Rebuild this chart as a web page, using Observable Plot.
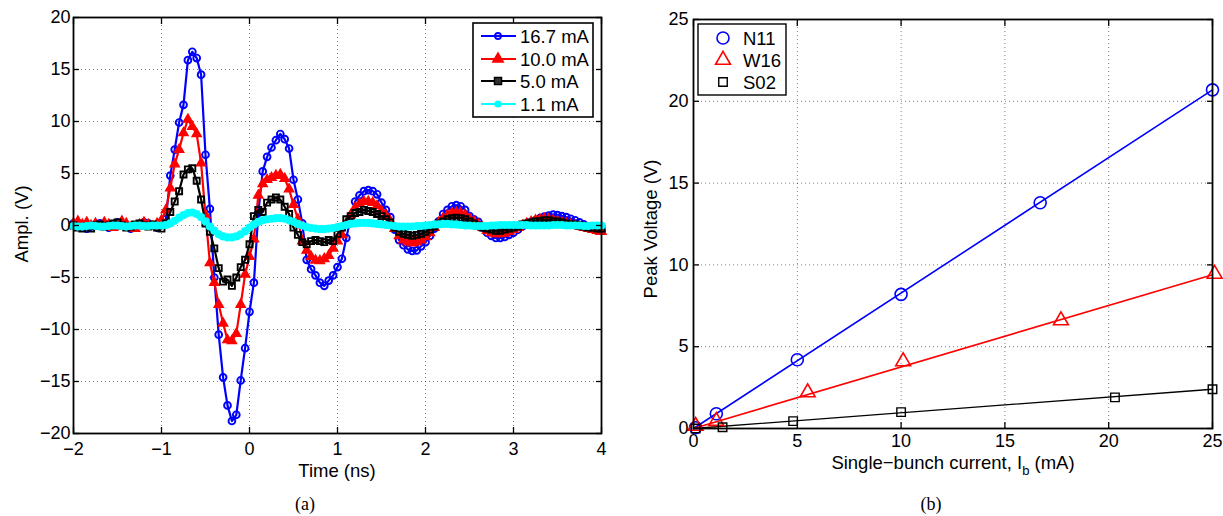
<!DOCTYPE html>
<html><head><meta charset="utf-8">
<script src="https://cdn.jsdelivr.net/npm/d3@7"></script>
<script src="https://cdn.jsdelivr.net/npm/@observablehq/plot@0.6"></script>
<style>
body{margin:0;background:#fff;}
#wrap{position:relative;width:1223px;height:516px;font-family:"Liberation Sans",Arial,sans-serif;background:#fff;}
.panel{position:absolute;top:0;}
.cap{position:absolute;top:494px;font-family:"Liberation Serif","DejaVu Serif",serif;font-size:18px;transform:translateX(-50%);line-height:20px;}
</style></head><body><div id="wrap"></div>
<script>
// ---------- Panel (a): waveforms ----------
const timeStart = -2, timeStep = 0.05; // sampling grid (ns)
const seriesNames = ["16.7 mA", "10.0 mA", "5.0 mA", "1.1 mA"];
const wave167 = [0.2,0.0,-0.2,-0.3,-0.1,0.1,0.2,0.0,-0.2,0.1,0.3,0.1,-0.1,-0.3,-0.2,0.1,0.3,0.2,0.0,-0.2,0.1,
  0.6,4.8,7.3,9.9,11.6,15.9,16.7,16.1,14.5,6.8,1.6,-5.0,-10.5,-14.6,-17.3,-18.8,-18.2,-14.9,-11.8,-8.3,
  -5.5,1.2,5.2,6.6,7.5,8.2,8.8,8.3,7.4,4.4,2.5,0.2,-3.3,-4.2,-4.8,-5.5,-5.8,-5.3,-4.8,-4.0,
  -3.2,-1.2,0.8,2.3,2.9,3.3,3.4,3.3,3.0,2.2,1.5,0.8,-0.4,-1.4,-1.9,-2.3,-2.45,-2.4,-2.0,-1.6,
  -1.0,-0.3,0.4,1.1,1.5,1.85,1.95,1.85,1.5,0.9,0.6,0.35,-0.2,-0.7,-1.0,-1.2,-1.2,-1.1,-0.9,-0.7,
  -0.4,-0.1,0.1,0.3,0.5,0.7,0.85,0.95,1.05,1.0,0.9,0.8,0.65,0.5,0.3,0.1,-0.1,-0.3,-0.5,-0.5];
const wave100 = [0.2,0.4,0.1,0.3,0.0,0.2,-0.1,0.3,0.1,-0.2,0.1,0.4,0.2,-0.2,-0.3,0.1,0.3,0.1,-0.1,0.2,0.5,
  1.5,3.6,5.9,7.3,8.9,10.2,9.5,8.8,6.0,1.0,-3.6,-5.5,-7.6,-9.4,-11.0,-11.1,-10.4,-7.6,-4.7,-3.0,
  -1.3,2.9,4.0,4.4,4.6,4.8,4.9,4.5,3.5,2.0,0.6,-1.5,-2.4,-3.0,-3.35,-3.4,-3.2,-2.9,-2.2,-1.5,
  -0.9,0.2,1.0,1.7,2.1,2.3,2.3,2.2,1.9,1.4,1.0,0.4,-0.3,-1.0,-1.4,-1.6,-1.7,-1.6,-1.4,-1.1,
  -0.7,-0.2,0.3,0.7,1.0,1.2,1.25,1.2,1.0,0.7,0.4,0.1,-0.2,-0.5,-0.7,-0.8,-0.8,-0.75,-0.6,-0.4,
  -0.2,0.0,0.2,0.35,0.5,0.6,0.65,0.6,0.5,0.4,0.3,0.2,0.1,0.0,-0.1,-0.2,-0.3,-0.4,-0.5,-0.6];
const wave50 = [0.0,-0.2,-0.3,-0.1,-0.3,0.0,0.1,-0.1,0.0,0.2,0.3,0.0,-0.2,-0.1,0.1,0.2,0.0,-0.1,0.1,-0.2,-0.3,
  0.2,1.3,2.3,3.3,4.9,5.4,5.5,4.3,2.5,0.2,-0.6,-2.2,-4.1,-5.4,-5.2,-5.8,-5.0,-4.0,-3.3,-1.8,
  0.9,1.5,1.3,2.2,2.5,2.7,2.5,1.8,1.1,-0.2,-0.9,-1.6,-1.8,-1.5,-1.4,-1.5,-1.6,-1.4,-1.5,-0.8,
  -0.2,0.6,0.9,1.2,1.3,1.5,1.4,1.3,1.1,0.9,0.6,0.3,-0.2,-0.6,-0.8,-0.9,-1.0,-0.9,-0.8,-0.6,
  -0.4,-0.1,0.2,0.4,0.6,0.7,0.75,0.7,0.6,0.4,0.2,0.0,-0.2,-0.3,-0.4,-0.5,-0.5,-0.4,-0.3,-0.2,
  -0.1,0.1,0.2,0.3,0.4,0.4,0.5,0.5,0.4,0.4,0.3,0.2,0.1,0.1,0.0,-0.1,-0.2,-0.2,-0.3,-0.3];
const wave11 = [-0.05,-0.1,-0.1,-0.05,0.0,-0.05,-0.1,-0.1,-0.05,0.0,0.0,-0.05,-0.1,-0.05,0.0,0.0,-0.05,-0.05,0.0,0.0,0.0,
  0.05,0.2,0.45,0.75,1.0,1.2,1.25,1.1,0.8,0.4,-0.1,-0.5,-0.85,-1.05,-1.15,-1.15,-1.05,-0.85,-0.55,-0.2,
  0.1,0.35,0.5,0.6,0.65,0.7,0.7,0.65,0.5,0.35,0.15,0.0,-0.15,-0.25,-0.3,-0.35,-0.35,-0.3,-0.25,-0.15,
  -0.05,0.05,0.15,0.2,0.25,0.25,0.25,0.2,0.15,0.1,0.05,0.0,-0.05,-0.1,-0.1,-0.1,-0.1,-0.05,-0.05,0.0,
  0.05,0.1,0.1,0.15,0.15,0.1,0.1,0.05,0.0,0.0,-0.05,-0.05,-0.05,-0.05,0.0,0.0,0.05,0.05,0.05,0.05,
  0.05,0.05,0.05,0.0,0.0,0.0,0.0,0.0,0.05,0.05,0.05,0.0,0.0,0.0,0.0,-0.05,-0.05,0.0,0.0,0.0];
const ticksTimeX = [-2,-1,0,1,2,3,4];
const ticksAmplY = [-20,-15,-10,-5,0,5,10,15,20];

// ---------- Panel (b): peak voltage vs current ----------
const legendB = ["N11", "W16", "S02"];
const currentN11 = [0.1, 1.1, 5.0, 10.0, 16.7, 25.0];
const voltN11    = [0.05, 0.9, 4.2, 8.2, 13.8, 20.7];
const currentW16 = [0.1, 1.1, 5.5, 10.1, 17.7, 25.1];
const voltW16    = [0.15, 0.45, 2.2, 4.1, 6.6, 9.45];
const currentS02 = [0.1, 1.4, 4.8, 10.0, 20.3, 25.0];
const voltS02    = [0.0, 0.08, 0.45, 1.0, 1.9, 2.4];
const fitCurrent = [0, 25];
const fitN11 = [0, 20.7];
const fitW16 = [0, 9.4];
const fitS02 = [0, 2.4];
const ticksCurrentX = [0,5,10,15,20,25];
const ticksVoltY = [0,5,10,15,20,25];

// ---------- helpers ----------
const BLUE = "#0000ff", RED = "#ff0000", BLACK = "#000000", CYAN = "#00ffff";
const FONT = "Liberation Sans, Arial, sans-serif";
const TICKFS = 18, LABFS = 18.5;
const fmt = d => d < 0 ? "\u2212" + Math.abs(d) : String(d);
const toWave = vals => vals.map((v, i) => ({t: +(timeStart + i * timeStep).toFixed(3), v}));
const toXY = (xs, ys) => xs.map((x, i) => ({x, y: ys[i]}));
const grid = (xt, yt) => [
  Plot.ruleX(xt, {stroke: "#000", strokeOpacity: 0.5, strokeWidth: 1, strokeDasharray: "1,3"}),
  Plot.ruleY(yt, {stroke: "#000", strokeOpacity: 0.5, strokeWidth: 1, strokeDasharray: "1,3"})
];
const boxAxes = (xt, yt, padY, padX) => [
  Plot.axisX(xt, {anchor: "bottom", tickSize: 0, tickPadding: padX, tickFormat: fmt, label: null, fontSize: TICKFS}),
  Plot.axisY(yt, {anchor: "left", tickSize: 0, tickPadding: padY, tickFormat: fmt, label: null, fontSize: TICKFS}),
  Plot.axisX(xt, {anchor: "bottom", tickSize: 6, dy: -6, tickFormat: () => "", label: null, strokeWidth: 1.3}),
  Plot.axisX(xt, {anchor: "top", tickSize: 6, dy: 6, tickFormat: () => "", label: null, strokeWidth: 1.3}),
  Plot.axisY(yt, {anchor: "left", tickSize: 6, dx: 6, tickFormat: () => "", label: null, strokeWidth: 1.3}),
  Plot.axisY(yt, {anchor: "right", tickSize: 6, dx: -6, tickFormat: () => "", label: null, strokeWidth: 1.3}),
  Plot.frame({stroke: "#000", strokeWidth: 1.8})
];
const addText = (sel, attrs, txt) => {
  const t = sel.append("text").attr("font-family", FONT).attr("fill", "black");
  Object.entries(attrs).forEach(([k, v]) => t.attr(k, v));
  if (txt != null) t.text(txt);
  return t;
};

const wrap = document.getElementById("wrap");

// ---------- build panel (a) ----------
const d167 = toWave(wave167), d100 = toWave(wave100), d50 = toWave(wave50), d11 = toWave(wave11);
const plotA = Plot.plot({
  width: 612, height: 480, marginLeft: 73, marginRight: 11, marginTop: 17, marginBottom: 47,
  x: {domain: [-2, 4]}, y: {domain: [-20, 20]},
  style: {fontFamily: FONT, fontSize: "18px", color: "black", background: "white", overflow: "visible"},
  marks: [
    ...grid(ticksTimeX, ticksAmplY),
    Plot.line(d167, {x: "t", y: "v", stroke: BLUE, strokeWidth: 2.2}),
    Plot.dot(d167, {x: "t", y: "v", r: 3.4, stroke: BLUE, strokeWidth: 1.9, fill: "none"}),
    Plot.line(d100, {x: "t", y: "v", stroke: RED, strokeWidth: 2.2}),
    Plot.dot(d100, {x: "t", y: "v", symbol: "triangle", r: 3.5, stroke: RED, strokeWidth: 1.3, fill: RED}),
    Plot.line(d50, {x: "t", y: "v", stroke: BLACK, strokeWidth: 2.2}),
    Plot.dot(d50, {x: "t", y: "v", symbol: "square", r: 3.4, stroke: BLACK, strokeWidth: 1.9, fill: "none"}),
    Plot.line(d11, {x: "t", y: "v", stroke: CYAN, strokeWidth: 3}),
    Plot.dot(d11, {x: "t", y: "v", r: 4.1, fill: CYAN, stroke: "none"}),
    ...boxAxes(ticksTimeX, ticksAmplY, 3, 9)
  ]
});
plotA.classList.add("panel");
plotA.style.left = "0px";
wrap.appendChild(plotA);

{
  const svg = d3.select(plotA);
  addText(svg, {transform: "translate(21,224) rotate(-90)", "text-anchor": "middle", "dominant-baseline": "central", "font-size": LABFS}, "Ampl. (V)");
  addText(svg, {x: 337, y: 477, "text-anchor": "middle", "font-size": LABFS}, "Time (ns)");
  const g = svg.append("g");
  g.append("rect").attr("x", 473).attr("y", 23).attr("width", 120).attr("height", 94)
    .attr("fill", "white").attr("stroke", "black").attr("stroke-width", 1.6);
  const cols = [BLUE, RED, BLACK, CYAN];
  const ys = [36, 59, 81, 104];
  seriesNames.forEach((name, i) => {
    const y = ys[i];
    g.append("line").attr("x1", 481).attr("x2", 516).attr("y1", y).attr("y2", y).attr("stroke", cols[i]).attr("stroke-width", 2.2);
    if (i === 0) g.append("circle").attr("cx", 498).attr("cy", y).attr("r", 3).attr("fill", "none").attr("stroke", BLUE).attr("stroke-width", 1.8);
    if (i === 1) g.append("path").attr("d", d3.symbol(d3.symbolTriangle, 75)()).attr("transform", `translate(498,${y})`).attr("fill", RED);
    if (i === 2) g.append("rect").attr("x", 494.5).attr("y", y - 3.5).attr("width", 7).attr("height", 7).attr("fill", "#333").attr("stroke", BLACK).attr("stroke-width", 1.5);
    if (i === 3) g.append("circle").attr("cx", 498).attr("cy", y).attr("r", 3.6).attr("fill", CYAN);
    addText(g, {x: 520, y: y, "text-anchor": "start", "dominant-baseline": "central", "font-size": LABFS}, name);
  });
}

// ---------- build panel (b) ----------
const pN11 = toXY(currentN11, voltN11), pW16 = toXY(currentW16, voltW16), pS02 = toXY(currentS02, voltS02);
const plotB = Plot.plot({
  width: 583, height: 480, marginLeft: 53, marginRight: 11, marginTop: 19, marginBottom: 52,
  x: {domain: [0, 25]}, y: {domain: [0, 25]},
  style: {fontFamily: FONT, fontSize: "18px", color: "black", background: "white", overflow: "visible"},
  marks: [
    ...grid(ticksCurrentX, ticksVoltY),
    Plot.line(toXY(fitCurrent, fitN11), {x: "x", y: "y", stroke: BLUE, strokeWidth: 1.6}),
    Plot.line(toXY(fitCurrent, fitW16), {x: "x", y: "y", stroke: RED, strokeWidth: 1.6}),
    Plot.line(toXY(fitCurrent, fitS02), {x: "x", y: "y", stroke: BLACK, strokeWidth: 1.3}),
    Plot.dot(pN11, {x: "x", y: "y", r: 6, stroke: BLUE, strokeWidth: 1.6, fill: "none"}),
    Plot.dot(pW16, {x: "x", y: "y", symbol: "triangle", r: 5.5, stroke: RED, strokeWidth: 1.6, fill: "none"}),
    Plot.dot(pS02, {x: "x", y: "y", symbol: "square", r: 4.8, stroke: BLACK, strokeWidth: 1.4, fill: "none"}),
    ...boxAxes(ticksCurrentX, ticksVoltY, 5, 6)
  ]
});
plotB.classList.add("panel");
plotB.style.left = "640px";
wrap.appendChild(plotB);

{
  const svg = d3.select(plotB);
  addText(svg, {transform: "translate(10,229) rotate(-90)", "text-anchor": "middle", "dominant-baseline": "central", "font-size": LABFS}, "Peak Voltage (V)");
  const xl = addText(svg, {x: 313, y: 469, "text-anchor": "middle", "font-size": LABFS});
  xl.append("tspan").text("Single\u2212bunch current, I");
  xl.append("tspan").attr("font-size", 13).attr("dy", 6).text("b");
  xl.append("tspan").attr("dy", -6).text(" (mA)");
  const g = svg.append("g");
  g.append("rect").attr("x", 58).attr("y", 24).attr("width", 88).attr("height", 71)
    .attr("fill", "white").attr("stroke", "black").attr("stroke-width", 1.4);
  const ys = [38, 60, 82];
  g.append("circle").attr("cx", 83).attr("cy", ys[0]).attr("r", 6).attr("fill", "none").attr("stroke", BLUE).attr("stroke-width", 1.6);
  g.append("path").attr("d", d3.symbol(d3.symbolTriangle, Math.PI * 5.5 * 5.5)()).attr("transform", `translate(83,${ys[1]})`)
    .attr("fill", "none").attr("stroke", RED).attr("stroke-width", 1.6);
  g.append("path").attr("d", d3.symbol(d3.symbolSquare, Math.PI * 4.8 * 4.8)()).attr("transform", `translate(83,${ys[2]})`)
    .attr("fill", "none").attr("stroke", BLACK).attr("stroke-width", 1.4);
  legendB.forEach((name, i) => {
    addText(g, {x: 103, y: ys[i], "text-anchor": "start", "dominant-baseline": "central", "font-size": LABFS}, name);
  });
}

// ---------- captions ----------
[["(a)", 305], ["(b)", 931]].forEach(([txt, x]) => {
  const c = document.createElement("div");
  c.className = "cap"; c.style.left = x + "px"; c.textContent = txt;
  wrap.appendChild(c);
});
</script></body></html>
